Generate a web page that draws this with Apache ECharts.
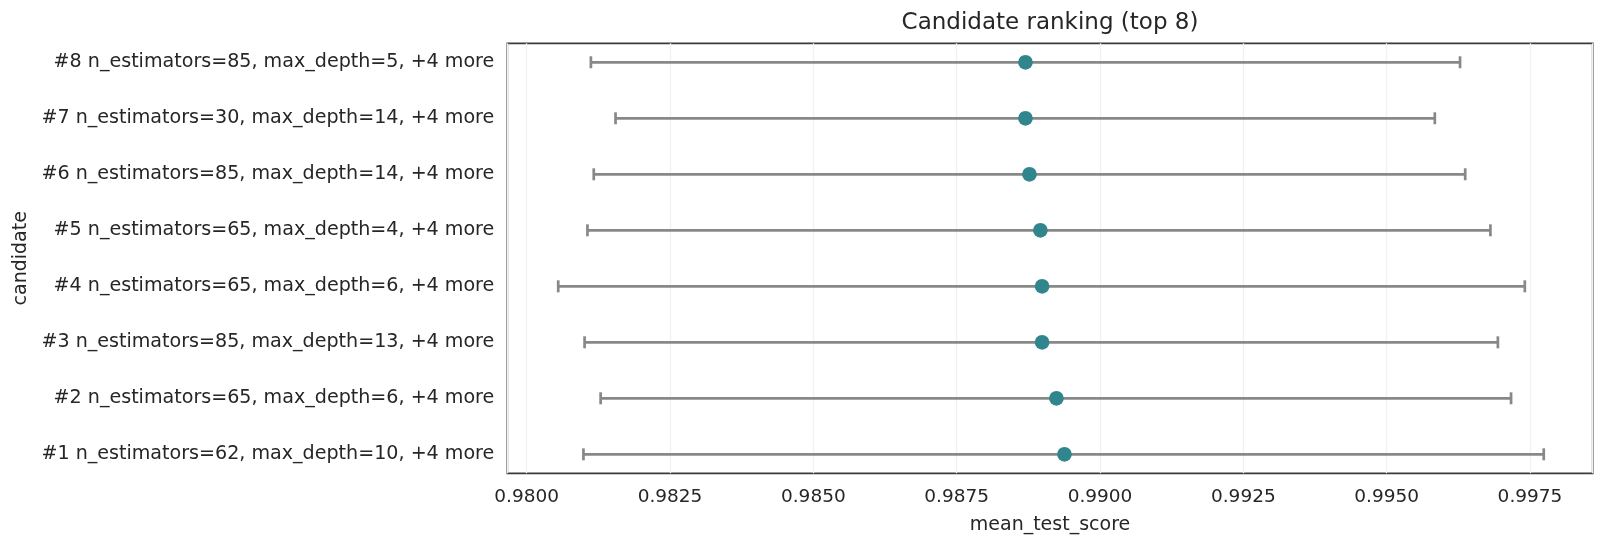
<!DOCTYPE html>
<html>
<head>
<meta charset="utf-8">
<title>Candidate ranking</title>
<script src="https://cdn.jsdelivr.net/npm/echarts@6/dist/echarts.min.js"></script>
<style>
    html, body { margin: 0; padding: 0; background: #fff; }
    #chart { width: 1607px; height: 548px; }
</style>
</head>
<body>
<div id="chart"></div>
<script>
    // bottom to top, as drawn
    const candidates = [
        '#1 n_estimators=62, max_depth=10, +4 more',
        '#2 n_estimators=65, max_depth=6, +4 more',
        '#3 n_estimators=85, max_depth=13, +4 more',
        '#4 n_estimators=65, max_depth=6, +4 more',
        '#5 n_estimators=65, max_depth=4, +4 more',
        '#6 n_estimators=85, max_depth=14, +4 more',
        '#7 n_estimators=30, max_depth=14, +4 more',
        '#8 n_estimators=85, max_depth=5, +4 more'
    ]
    const meanScore = [0.98938, 0.98924, 0.98899, 0.98899, 0.98896, 0.98877, 0.98870, 0.98870]
    const lowerScore = [0.98099, 0.98129, 0.98101, 0.98055, 0.98106, 0.98117, 0.98155, 0.98112]
    const upperScore = [0.99774, 0.99717, 0.99694, 0.99741, 0.99681, 0.99637, 0.99584, 0.99628]

    const font = 'DejaVu Sans'
    const textColor = '#262626'

    let myChart = echarts.init(document.getElementById('chart'), null, {renderer: 'canvas'})
    myChart.setOption({
        animation: false,
        backgroundColor: '#fff',
        textStyle: {fontFamily: font},
        title: {
            text: 'Candidate ranking (top 8)',
            left: 1050,
            top: 12,
            padding: 0,
            textAlign: 'center',
            textStyle: {
                fontFamily: font,
                fontSize: 23,
                fontWeight: 'normal',
                color: textColor
            }
        },
        grid: {
            left: 507.3,
            right: 14.3,
            top: 43.3,
            bottom: 74.7,
            show: true,
            borderColor: '#3a3a3a',
            borderWidth: 1.7,
            backgroundColor: 'transparent'
        },
        xAxis: {
            type: 'value',
            min: 0.979662,
            max: 0.998594,
            minInterval: 0.0025,
            maxInterval: 0.0025,
            name: 'mean_test_score',
            nameLocation: 'middle',
            nameGap: 42,
            nameTextStyle: {fontFamily: font, fontSize: 19, color: textColor},
            axisLine: {show: false},
            axisTick: {show: false},
            axisLabel: {
                showMinLabel: false,
                showMaxLabel: false,
                margin: 14,
                fontFamily: font,
                fontSize: 18.5,
                color: textColor,
                formatter: v => v.toFixed(4)
            },
            splitLine: {
                show: true,
                lineStyle: {color: '#f1f1f1', width: 1.3}
            }
        },
        yAxis: {
            type: 'value',
            min: -0.339,
            max: 7.339,
            minInterval: 1,
            maxInterval: 1,
            name: 'candidate',
            nameLocation: 'middle',
            nameRotate: 90,
            nameGap: 473,
            nameTextStyle: {fontFamily: font, fontSize: 19, color: textColor},
            axisLine: {show: false},
            axisTick: {show: false},
            splitLine: {show: false},
            axisLabel: {
                showMinLabel: false,
                showMaxLabel: false,
                margin: 13,
                fontFamily: font,
                fontSize: 19.1,
                color: textColor,
                formatter: v => {
                    let i = Math.round(v)
                    return Math.abs(v - i) < 1e-6 && candidates[i] ? candidates[i] : ''
                }
            }
        },
        series: [
            {
                name: 'range',
                type: 'custom',
                data: candidates.map((c, i) => [lowerScore[i], upperScore[i], i]),
                encode: {x: [0, 1], y: 2},
                renderItem: function (params, api) {
                    let lo = api.coord([api.value(0), api.value(2)])
                    let hi = api.coord([api.value(1), api.value(2)])
                    let cap = 6
                    let style = {stroke: '#888888', lineWidth: 2.7}
                    return {
                        type: 'group',
                        children: [
                            {type: 'line', shape: {x1: lo[0], y1: lo[1], x2: hi[0], y2: hi[1]}, style: style},
                            {type: 'line', shape: {x1: lo[0], y1: lo[1] - cap, x2: lo[0], y2: lo[1] + cap}, style: style},
                            {type: 'line', shape: {x1: hi[0], y1: hi[1] - cap, x2: hi[0], y2: hi[1] + cap}, style: style}
                        ]
                    }
                },
                z: 2
            },
            {
                name: 'mean_test_score',
                type: 'scatter',
                data: meanScore.map((m, i) => [m, i]),
                symbol: 'circle',
                symbolSize: 14.7,
                itemStyle: {color: '#31868e', opacity: 1},
                z: 3
            }
        ]
    })
</script>
</body>
</html>
